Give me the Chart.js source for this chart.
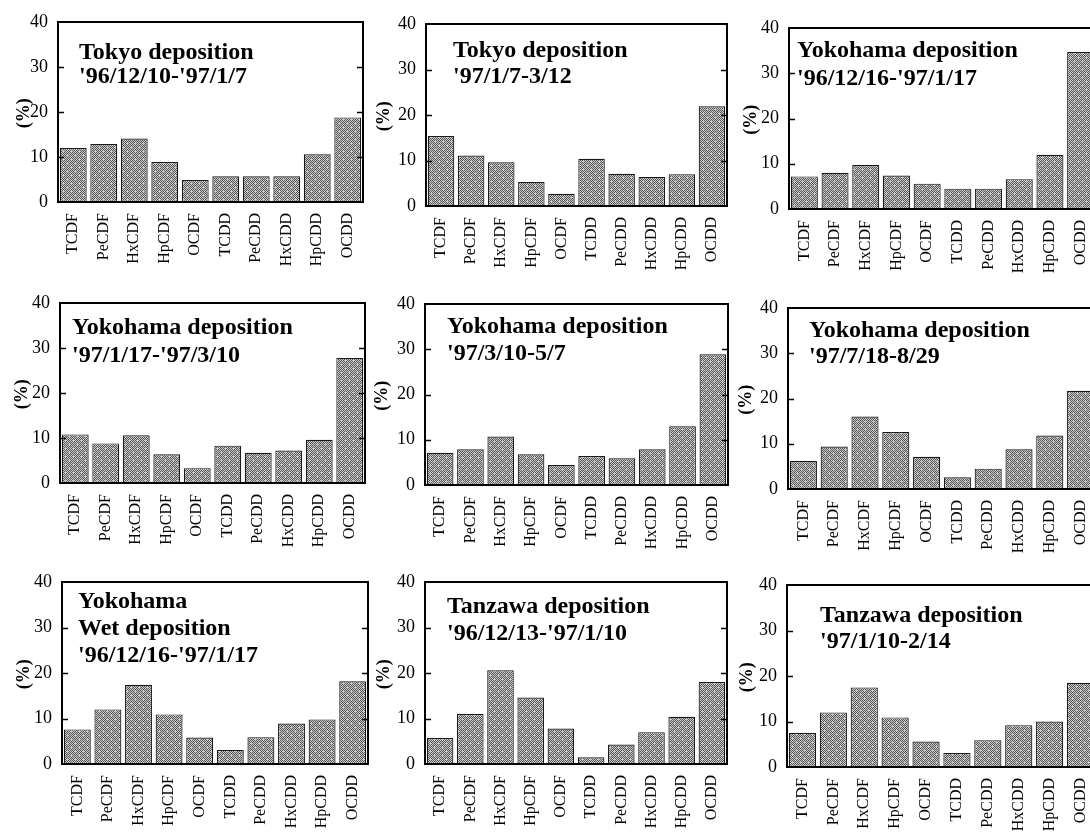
<!DOCTYPE html>
<html><head><meta charset="utf-8">
<script src="https://cdn.jsdelivr.net/npm/chart.js@4.4.1/dist/chart.umd.min.js"></script>
<style>
html,body{margin:0;padding:0;background:#fff;overflow:hidden;width:1090px;height:838px;position:relative;}
canvas{position:absolute;}
</style></head><body>
<script>
// ---- data ----
const categories = ['TCDF','PeCDF','HxCDF','HpCDF','OCDF','TCDD','PeCDD','HxCDD','HpCDD','OCDD'];
const yTickValues = [0, 10, 20, 30, 40];
const yAxisLabel = '(%)';

const tokyoDep1     = [12.0, 12.9, 14.1, 8.9, 4.9, 5.7, 5.7, 5.7, 10.6, 18.8];
const tokyoDep2     = [15.4, 11.1, 9.6, 5.3, 2.7, 10.4, 7.1, 6.4, 7.0, 21.9];
const yokohamaDep1  = [7.2, 8.0, 9.7, 7.4, 5.6, 4.5, 4.5, 6.6, 12.0, 34.7];
const yokohamaDep2  = [10.8, 8.8, 10.6, 6.4, 3.3, 8.3, 6.7, 7.2, 9.6, 27.8];
const yokohamaDep3  = [7.1, 7.9, 10.7, 6.8, 4.4, 6.4, 5.9, 7.9, 13.0, 28.9];
const yokohamaDep4  = [6.2, 9.4, 16.0, 12.6, 7.1, 2.6, 4.5, 8.8, 11.8, 21.7];
const yokohamaWet   = [7.6, 12.0, 17.4, 10.9, 5.8, 3.1, 5.9, 8.9, 9.8, 18.2];
const tanzawaDep1   = [5.7, 11.0, 20.6, 14.6, 7.8, 1.5, 4.3, 7.0, 10.4, 18.0];
const tanzawaDep2   = [7.5, 12.0, 17.5, 10.9, 5.6, 3.1, 5.9, 9.2, 10.0, 18.5];

const titleTokyo1    = ['Tokyo deposition', "'96/12/10-'97/1/7"];
const titleTokyo2    = ['Tokyo deposition', "'97/1/7-3/12"];
const titleYokohama1 = ['Yokohama deposition', "'96/12/16-'97/1/17"];
const titleYokohama2 = ['Yokohama deposition', "'97/1/17-'97/3/10"];
const titleYokohama3 = ['Yokohama deposition', "'97/3/10-5/7"];
const titleYokohama4 = ['Yokohama deposition', "'97/7/18-8/29"];
const titleYokoWet   = ['Yokohama', 'Wet deposition', "'96/12/16-'97/1/17"];
const titleTanzawa1  = ['Tanzawa deposition', "'96/12/13-'97/1/10"];
const titleTanzawa2  = ['Tanzawa deposition', "'97/1/10-2/14"];

// ---- layout (plot-area boxes, title placement) ----
const panels = [
  {data: tokyoDep1,    title: titleTokyo1,    box:[58,22,363,202],   tx:79,  tb:[59,83],  yt:24},
  {data: tokyoDep2,    title: titleTokyo2,    box:[426,24,727,206],  tx:453, tb:[57,83],  yt:384},
  {data: yokohamaDep1, title: titleYokohama1, box:[789,28,1096,209], tx:797, tb:[57,85],  yt:751},
  {data: yokohamaDep2, title: titleYokohama2, box:[60,303,365,483],  tx:72,  tb:[334,362], yt:22},
  {data: yokohamaDep3, title: titleYokohama3, box:[425,304,728,485], tx:447, tb:[333,360], yt:382},
  {data: yokohamaDep4, title: titleYokohama4, box:[788,308,1096,489], tx:809, tb:[337,363], yt:746},
  {data: yokohamaWet,  title: titleYokoWet,   box:[62,582,368,764],  tx:78,  tb:[608,635,662], yt:24},
  {data: tanzawaDep1,  title: titleTanzawa1,  box:[425,582,727,764], tx:447, tb:[613,640], yt:384},
  {data: tanzawaDep2,  title: titleTanzawa2,  box:[787,585,1096,767], tx:820, tb:[622,648], yt:747}
];

const PAD_L = 60, PAD_T = 14, PAD_R = 4, XH = 72;
const SERIF = '"Liberation Serif", "DejaVu Serif", serif';

// stippled grey fill (deterministic dither pattern)
function makePattern() {
  const c = document.createElement('canvas');
  c.width = 8; c.height = 8;
  const g = c.getContext('2d');
  const bayer = [[0,32,8,40,2,34,10,42],[48,16,56,24,50,18,58,26],[12,44,4,36,14,46,6,38],[60,28,52,20,62,30,54,22],
                 [3,35,11,43,1,33,9,41],[51,19,59,27,49,17,57,25],[15,47,7,39,13,45,5,37],[63,31,55,23,61,29,53,21]];
  for (let y = 0; y < 8; y++) for (let x = 0; x < 8; x++) {
    g.fillStyle = bayer[y][x] < 30 ? '#555555' : '#cccccc';
    g.fillRect(x, y, 1, 1);
  }
  return g.createPattern(c, 'repeat');
}

function zeroPad(s) {
  s.paddingLeft = 0; s.paddingRight = 0; s.paddingTop = 0; s.paddingBottom = 0;
}

const framePlugin = {
  id: 'frame',
  afterDatasetsDraw(chart, args, opts) {
    const ctx = chart.ctx, a = chart.chartArea, ys = chart.scales.y;
    ctx.save();
    ctx.strokeStyle = '#000';
    ctx.lineWidth = 2;
    ctx.strokeRect(a.left, a.top, a.right - a.left, a.bottom - a.top);
    ctx.lineWidth = 1.5;
    [10, 20, 30].forEach(v => {
      const y = Math.round(ys.getPixelForValue(v)) + 0.5;
      ctx.beginPath();
      ctx.moveTo(a.left, y); ctx.lineTo(a.left + 6, y);
      ctx.moveTo(a.right, y); ctx.lineTo(a.right - 6, y);
      ctx.stroke();
    });
    // title text
    ctx.fillStyle = '#000';
    ctx.font = 'bold 24px ' + SERIF;
    ctx.textAlign = 'left';
    ctx.textBaseline = 'alphabetic';
    opts.lines.forEach((t, i) => ctx.fillText(t, opts.tx, opts.tb[i]));
    // y axis label
    ctx.font = 'bold 18px ' + SERIF;
    ctx.translate(opts.yt, ys.getPixelForValue(19.7));
    ctx.rotate(-Math.PI / 2);
    ctx.textAlign = 'center';
    ctx.textBaseline = 'middle';
    ctx.fillText(yAxisLabel, 0, 0);
    ctx.restore();
  }
};

const fill = makePattern();

panels.forEach(p => {
  const [L, T, R, B] = p.box;
  const cv = document.createElement('canvas');
  const cx = L - PAD_L, cy = T - PAD_T;
  const w = (R - L) + PAD_L + PAD_R, h = (B - T) + PAD_T + XH;
  cv.width = w; cv.height = h;
  cv.style.left = cx + 'px'; cv.style.top = cy + 'px';
  cv.style.width = w + 'px'; cv.style.height = h + 'px';
  document.body.appendChild(cv);
  new Chart(cv, {
    type: 'bar',
    data: {
      labels: categories,
      datasets: [{
        data: p.data,
        backgroundColor: fill,
        borderColor: '#1a1a1a',
        borderWidth: 1.2,
        borderSkipped: false,
        barPercentage: 0.88,
        categoryPercentage: 1.0
      }]
    },
    options: {
      responsive: false,
      animation: false,
      devicePixelRatio: 1,
      layout: {padding: {top: PAD_T, right: PAD_R, bottom: 0, left: 0}},
      plugins: {
        legend: {display: false},
        tooltip: {enabled: false},
        frame: {lines: p.title, tx: p.tx - cx, tb: p.tb.map(b => b - cy), yt: p.yt - cx}
      },
      scales: {
        x: {
          grid: {display: false, drawTicks: false},
          border: {display: false},
          ticks: {
            autoSkip: false, minRotation: 90, maxRotation: 90, padding: 11,
            color: '#000', font: {family: SERIF, size: 16}
          },
          afterFit: s => { s.height = XH; zeroPad(s); }
        },
        y: {
          min: 0, max: 40,
          grid: {display: false, drawTicks: false},
          border: {display: false},
          afterBuildTicks: s => { s.ticks = yTickValues.map(v => ({value: v})); },
          ticks: {padding: 10, color: '#000', font: {family: SERIF, size: 18}},
          afterFit: s => { s.width = PAD_L; zeroPad(s); }
        }
      }
    },
    plugins: [framePlugin]
  });
});
</script>
</body></html>
